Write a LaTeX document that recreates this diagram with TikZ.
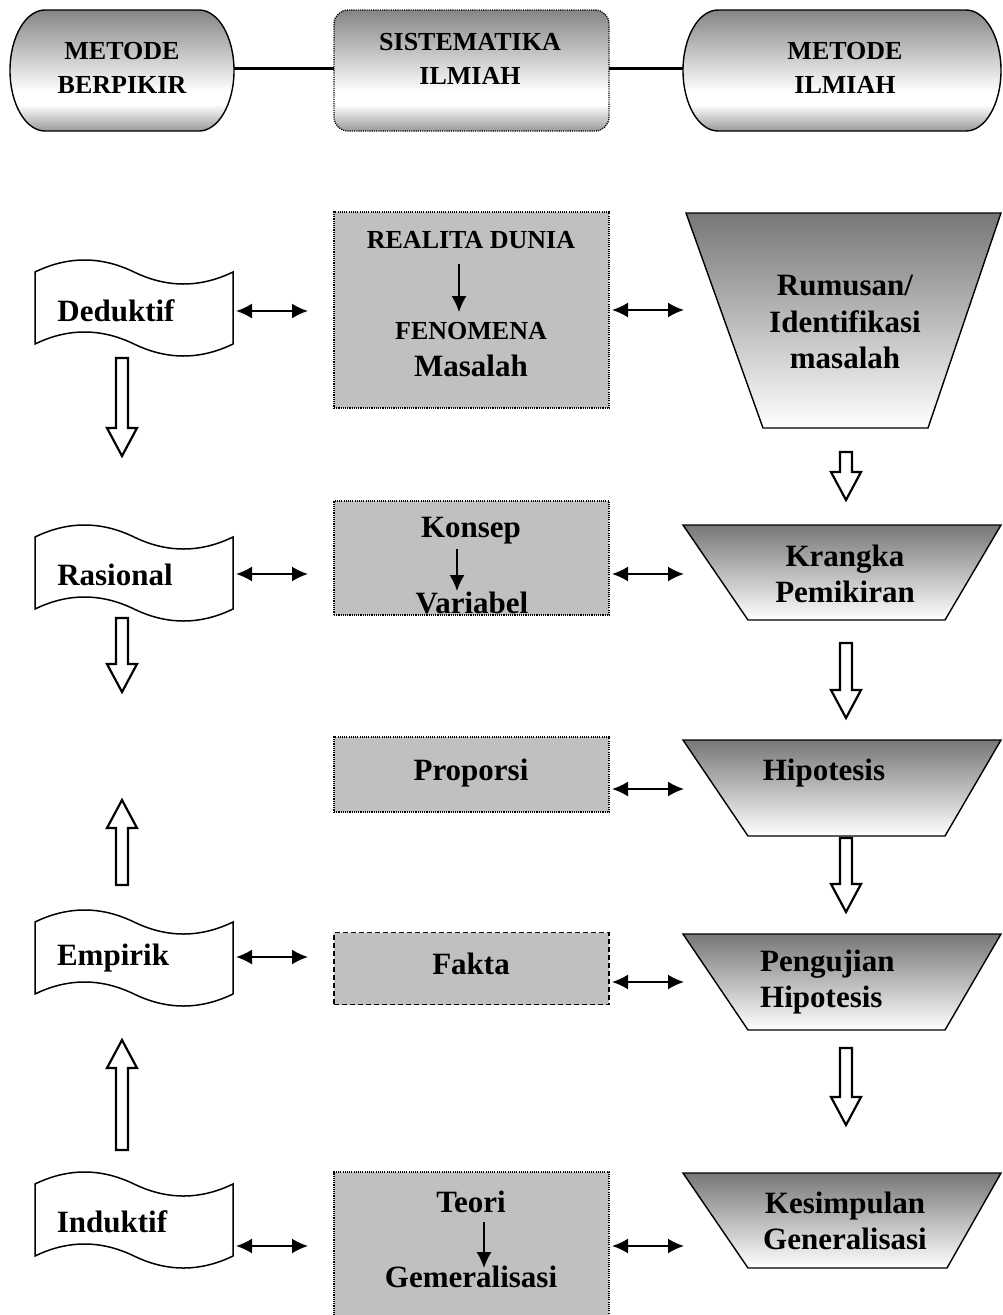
\documentclass[tikz,border=0pt]{standalone}
\usepackage{fontspec}
\setmainfont{Liberation Serif}
\usetikzlibrary{arrows.meta}
\definecolor{boxgray}{HTML}{C0C0C0}
\definecolor{trapgray}{HTML}{777777}
\definecolor{stadtop}{HTML}{858585}
\definecolor{stadbot}{HTML}{9A9A9A}
\pgfdeclareverticalshading{stadshade}{100bp}{color(0bp)=(stadbot); color(25bp)=(stadbot); color(36bp)=(white); color(41bp)=(white); color(75bp)=(stadtop); color(100bp)=(stadtop)}
\newcommand\mytape[1]{%
 \draw[line width=1.5pt, fill=white] (35,{-(#1-36)}) .. controls (68,{-(#1-52)}) and (101,{-(#1-52)}) .. (134,{-(#1-36)}) .. controls (167,{-(#1-20)}) and (200,{-(#1-20)}) .. (233,{-(#1-36)}) -- (233,{-(#1+36)}) .. controls (200,{-(#1+52)}) and (167,{-(#1+52)}) .. (134,{-(#1+36)}) .. controls (101,{-(#1+20)}) and (68,{-(#1+20)}) .. (35,{-(#1+36)}) -- cycle;}
\newcommand\myhdown[3]{%
 \draw[line width=2.2pt, fill=white] ({#1-6},{-(#2)}) -- ({#1+6},{-(#2)}) -- ({#1+6},{-(#3-28)}) -- ({#1+15},{-(#3-28)}) -- (#1,{-(#3)}) -- ({#1-15},{-(#3-28)}) -- ({#1-6},{-(#3-28)}) -- cycle;}
\newcommand\myhup[3]{%
 \draw[line width=2.2pt, fill=white] ({#1-6},{-(#2)}) -- ({#1+6},{-(#2)}) -- ({#1+6},{-(#3+28)}) -- ({#1+15},{-(#3+28)}) -- (#1,{-(#3)}) -- ({#1-15},{-(#3+28)}) -- ({#1-6},{-(#3+28)}) -- cycle;}
\begin{document}
\begin{tikzpicture}[x=1pt,y=1pt,
  capt/.style={font=\fontsize{26}{34}\selectfont\bfseries, align=center, inner sep=0pt},
  lbl/.style={font=\fontsize{31}{36.5}\selectfont\bfseries, align=center, inner sep=0pt},
  dbl/.style={{Latex[length=16pt,width=15pt]}-{Latex[length=16pt,width=15pt]}, line width=2pt},
  inarrow/.style={-{Latex[length=16pt,width=15pt]}, line width=1.5pt},
  gbox/.style={draw, fill=boxgray, line width=1.4pt, dash pattern=on 1.1pt off 1.1pt, inner sep=0pt, minimum width=275pt},
  trap/.style={draw, line width=1.4pt, top color=trapgray, bottom color=white},
  stadp/.style={draw, line width=1.4pt, shading=stadshade},
  conn/.style={line width=3pt}
]
\useasboundingbox (0,0) rectangle (1003,-1315);

% ---------- top row ----------
\shadedraw[stadp] (45,-10) -- (199,-10) arc[start angle=90, end angle=-90, x radius=35, y radius=60.5] -- (45,-131) arc[start angle=270, end angle=90, x radius=35, y radius=60.5] -- cycle;
\node[capt] (mb) at (122,-68) {METODE\\BERPIKIR};
\coordinate (mbE) at (234,-68);
\shadedraw[stadp, rounded corners=14pt, dash pattern=on 1.1pt off 1.1pt] (334,-10) rectangle (609,-131);
\node[capt] (si) at (470,-59) {SISTEMATIKA\\ILMIAH};
\coordinate (siW) at (334,-68);
\coordinate (siE) at (609,-68);
\shadedraw[stadp] (718,-10) -- (966,-10) arc[start angle=90, end angle=-90, x radius=35, y radius=60.5] -- (718,-131) arc[start angle=270, end angle=90, x radius=35, y radius=60.5] -- cycle;
\node[capt] (mi) at (845,-68) {METODE\\ILMIAH};
\coordinate (miW) at (683,-68);
\draw[conn] (mbE) -- (siW);
\draw[conn] (siE) -- (miW);

% ---------- left column: tapes ----------
\mytape{308}
\node[lbl] (ded) at (116,-311) {Deduktif};
\mytape{573}
\node[lbl] (ras) at (115,-575) {Rasional};
\mytape{958}
\node[lbl] (emp) at (113,-958) {Empirik};
\mytape{1220}
\node[lbl] (ind) at (112,-1222) {Induktif};

\myhdown{122}{358}{456}
\myhdown{122}{618}{692}
\myhup{122}{885}{800}
\myhup{122}{1150}{1040}

% ---------- middle column: gray boxes ----------
\node[gbox, minimum height=196pt] (b1) at (471.5,-310) {};
\node[capt] (rd) at (471,-240) {REALITA DUNIA};
\node[capt] (fen) at (471,-331) {FENOMENA};
\node[lbl] (mas) at (471,-366) {Masalah};
\coordinate (b1a) at (459,-264);
\coordinate (b1b) at (459,-312);
\draw[inarrow] (b1a) -- (b1b);

\node[gbox, minimum height=114pt] (b2) at (471.5,-558) {};
\node[lbl] (kon) at (471,-531) {Konsep};
\node[lbl] (var) at (472,-603) {Variabel};
\coordinate (b2a) at (457,-549);
\coordinate (b2b) at (457,-591);
\draw[inarrow] (b2a) -- (b2b);

\node[gbox, minimum height=75pt] (b3) at (471.5,-774.5) {};
\node[lbl] (pro) at (471,-773) {Proporsi};

\node[draw, fill=boxgray, line width=1.4pt, dash pattern=on 5pt off 3pt, inner sep=0pt, minimum width=275pt, minimum height=72pt] (b4) at (471.5,-968.5) {};
\node[lbl] (fak) at (471,-964) {Fakta};

\node[gbox, minimum height=146pt] (b5) at (471.5,-1245) {};
\node[lbl] (teo) at (471,-1202) {Teori};
\node[lbl] (gem) at (471,-1277) {Gemeralisasi};
\coordinate (b5a) at (484,-1222);
\coordinate (b5b) at (484,-1268);
\draw[inarrow] (b5a) -- (b5b);

% ---------- right column: trapezoids ----------
\shadedraw[trap] (686,-213) -- (1001,-213) -- (928,-428) -- (763,-428) -- cycle;
\node[lbl] (rum) at (845,-322) {Rumusan/\\Identifikasi\\masalah};
\shadedraw[trap] (683,-525) -- (1001,-525) -- (945,-620) -- (748,-620) -- cycle;
\node[lbl] (kra) at (845,-574) {Krangka\\Pemikiran};
\shadedraw[trap] (683,-740) -- (1001,-740) -- (945,-836) -- (748,-836) -- cycle;
\node[lbl] (hip) at (824,-773) {Hipotesis};
\shadedraw[trap] (683,-934) -- (1001,-934) -- (945,-1030) -- (748,-1030) -- cycle;
\node[lbl, align=left, anchor=west] (pen) at (760,-982) {Pengujian\\Hipotesis};
\shadedraw[trap] (683,-1173) -- (1001,-1173) -- (947,-1268) -- (748,-1268) -- cycle;
\node[lbl] (kes) at (845,-1221) {Kesimpulan\\Generalisasi};

\myhdown{846}{452}{500}
\myhdown{846}{643}{718}
\myhdown{846}{838}{912}
\myhdown{846}{1048}{1125}

% ---------- double arrows ----------
\coordinate (l1a) at (236,-311); \coordinate (l1b) at (308,-311);
\coordinate (l2a) at (236,-574); \coordinate (l2b) at (308,-574);
\coordinate (l3a) at (236,-957); \coordinate (l3b) at (308,-957);
\coordinate (l4a) at (236,-1246); \coordinate (l4b) at (308,-1246);
\draw[dbl] (l1a) -- (l1b);
\draw[dbl] (l2a) -- (l2b);
\draw[dbl] (l3a) -- (l3b);
\draw[dbl] (l4a) -- (l4b);
\coordinate (r1a) at (612,-310); \coordinate (r1b) at (684,-310);
\coordinate (r2a) at (612,-574); \coordinate (r2b) at (684,-574);
\coordinate (r3a) at (612,-789); \coordinate (r3b) at (684,-789);
\coordinate (r4a) at (612,-982); \coordinate (r4b) at (684,-982);
\coordinate (r5a) at (612,-1246); \coordinate (r5b) at (684,-1246);
\draw[dbl] (r1a) -- (r1b);
\draw[dbl] (r2a) -- (r2b);
\draw[dbl] (r3a) -- (r3b);
\draw[dbl] (r4a) -- (r4b);
\draw[dbl] (r5a) -- (r5b);
\end{tikzpicture}
\end{document}
